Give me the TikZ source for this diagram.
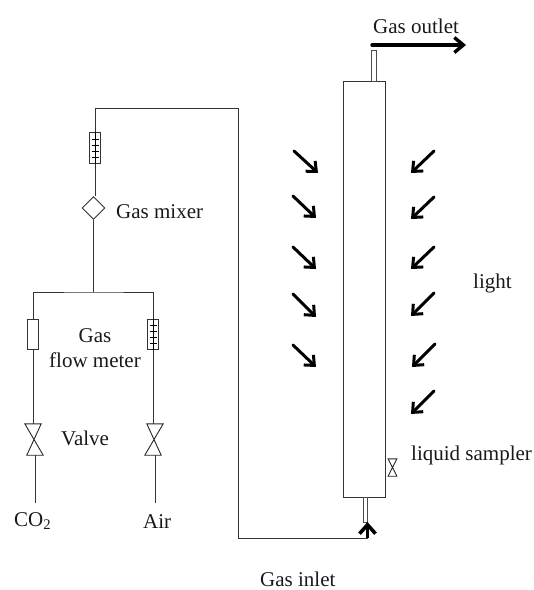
\documentclass[tikz,border=0pt]{standalone}
\usepackage{fontspec}
\setmainfont{Liberation Serif}
\usetikzlibrary{shapes.geometric, arrows.meta, positioning}

\begin{document}
\begin{tikzpicture}[
    x=1pt, y=-1pt,
    % Styles
    label/.style={inner sep=0pt, anchor=base west, font=\fontsize{21}{25}\selectfont, align=center, text=black!90},
    pipe/.style={line width=1pt, color=black!80},
    meterbox/.style={rectangle, draw=black!80, line width=0.9pt, minimum width=11.5pt, minimum height=30.5pt, inner sep=0pt},
    mixerbox/.style={diamond, draw=black!80, line width=0.9pt, minimum width=23pt, minimum height=23pt, inner sep=0pt},
    valvebox/.style={rectangle, minimum width=18pt, minimum height=31pt, inner sep=0pt},
    columnbox/.style={rectangle, draw=black!80, line width=1pt, minimum width=42pt, minimum height=416pt, inner sep=0pt},
    tubebox/.style={rectangle, draw=black!70, line width=0.9pt, inner sep=0pt},
    flowarrow/.style={-{Straight Barb[length=9pt, width=15pt, line width=3.4pt]}, line width=3.4pt, line cap=round},
    inletarrow/.style={-{Straight Barb[length=9pt, width=16pt, line width=3.6pt]}, line width=3.6pt},
    lightarrow/.style={-{Straight Barb[length=8pt, width=14pt, line width=3pt]}, line width=3pt, line cap=round}
]
\useasboundingbox (0,0) rectangle (534,590);

% Column with its tubes
\node[columnbox] (column) at (364.7,289) {};
\node[tubebox, minimum width=4.5pt, minimum height=30.5pt] (outlettube) at (374,65.7) {};
\node[tubebox, minimum width=4.5pt, minimum height=25pt] (inlettube) at (365.6,509.5) {};

% Gas line
\node[meterbox] (metermix) at (95,148) {};
\node[mixerbox] (mixer) at (93.5,208) {};
\node[meterbox] (meterco) at (33,334.5) {};
\node[meterbox] (meterair) at (153,334.5) {};
\foreach \name in {metermix, meterair} {
    \draw[line width=0.8pt] (\name.north) -- (\name.south);
    \foreach \dy in {-9,-3,3,9}
        \draw[line width=0.8pt] ([xshift=-3.5pt, yshift=\dy pt]\name.center) -- ([xshift=3.5pt, yshift=\dy pt]\name.center);
}

% Valves
\node[valvebox] (valveco) at (34,439.5) {};
\node[valvebox] (valveair) at (154,439.5) {};
\draw[line width=0.9pt, color=black!85] (valveco.north west) -- ([xshift=-2pt]valveco.north east) -- ([xshift=2pt]valveco.south west) -- (valveco.south east) -- cycle;
\draw[line width=0.9pt, color=black!85] ([xshift=2pt]valveair.north west) -- (valveair.north east) -- (valveair.south west) -- ([xshift=-2pt]valveair.south east) -- cycle;
\node[valvebox, minimum width=8.5pt, minimum height=17pt] (sampler) at (392.5,467.5) {};
\draw[line width=0.9pt, color=black!85] (sampler.north west) -- (sampler.north east) -- (sampler.south west) -- (sampler.south east) -- cycle;

% Labels
\node[label] (outlet) at (373,33) {Gas outlet};
\node[label] (mixerlabel) at (116,218) {Gas mixer};
\node[label, anchor=center] (meterlabel) at (95,348) {Gas\\flow meter};
\node[label] (valvelabel) at (61,445) {Valve};
\node[label] (co) at (14,526) {CO\textsubscript{2}};
\node[label] (air) at (143,528) {Air};
\node[label] (light) at (473,288) {light};
\node[label] (samplerlabel) at (411,460) {liquid sampler};
\node[label] (inlet) at (260,586) {Gas inlet};
\coordinate (cotop) at (35.5,503);
\coordinate (airtop) at (155,503);
\coordinate (split) at (94,292);
\coordinate (corner) at (238,108);
\coordinate (cornerlow) at (238,538);
\coordinate (inletend) at (367.5,538);
\coordinate (inlettip) at (367.5,522);

% Pipes
\draw[pipe] (metermix.north) |- (corner) -- (cornerlow) -- (inletend);
\draw[pipe] (metermix.south) -- (metermix.south |- mixer.north);
\draw[pipe] (mixer.south) -- (mixer.south |- split);
\draw[pipe] (meterco.north) |- (split) -| (meterair.north);
\draw[pipe] (meterco.south) -- (meterco.south |- valveco.north);
\draw[pipe] (meterair.south) -- (meterair.south |- valveair.north);
\draw[pipe] (cotop |- valveco.south) -- (cotop);
\draw[pipe] (airtop |- valveair.south) -- (airtop);

% Flow arrows
\draw[flowarrow] (372,45) -- (466,45);
\draw[inletarrow] (inletend) -- (inlettip);

% Light arrows
\foreach \xa/\ya/\xb/\yb in {294/151/318/173, 293/196/316/218, 293/247/316/269, 293/294/316/317, 293/345/316/367}
    \draw[lightarrow] (\xa,\ya) -- (\xb,\yb);
\foreach \xa/\ya/\xb/\yb in {434/151/411/173, 434/197/411/219, 434/247/411/269, 434/293/411/316, 435/344/412/367, 434/391/411/414}
    \draw[lightarrow] (\xa,\ya) -- (\xb,\yb);

\end{tikzpicture}
\end{document}
